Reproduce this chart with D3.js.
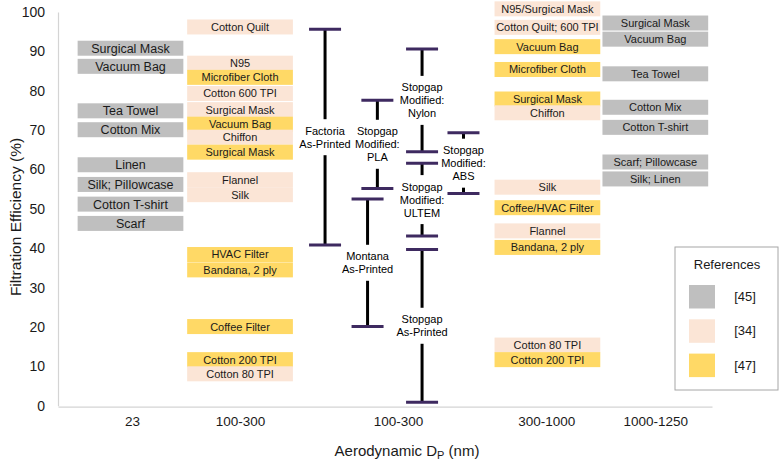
<!DOCTYPE html>
<html>
<head>
<meta charset="utf-8">
<script src="https://cdn.jsdelivr.net/npm/d3@7"></script>
<style>
  html, body { margin: 0; padding: 0; background: #fff; }
  svg { display: block; font-family: "Liberation Sans", Arial, sans-serif; }
</style>
</head>
<body>
<svg id="chart" width="780" height="461"></svg>
<script>
// x-axis categories (aerodynamic diameter bins) and where they sit on the x scale
const categories   = ["23", "100-300", "100-300", "300-1000", "1000-1250"];
const categoryPos  = [0.68, 1.67, 3.12, 4.48, 5.48];
const yTicks = [0, 10, 20, 30, 40, 50, 60, 70, 80, 90, 100];

// literature references
const refs      = ["[45]", "[34]", "[47]"];
const refColors = ["#bfbfbf", "#fbe5d6", "#ffd966"];

// fabric / material filtration efficiency (%) per column : [label, value, ref]
const materials23 = [
  ["Surgical Mask", 90.8, "[45]"], ["Vacuum Bag", 86.2, "[45]"], ["Tea Towel", 74.9, "[45]"],
  ["Cotton Mix", 70.1, "[45]"], ["Linen", 61.2, "[45]"], ["Silk; Pillowcase", 56.2, "[45]"],
  ["Cotton T-shirt", 51.2, "[45]"], ["Scarf", 46.3, "[45]"]
];
const materials100 = [
  ["Cotton Quilt", 96.2, "[34]"], ["N95", 87.0, "[34]"], ["Microfiber Cloth", 83.4, "[47]"],
  ["Cotton 600 TPI", 79.3, "[34]"], ["Surgical Mask", 75.2, "[34]"], ["Vacuum Bag", 71.5, "[47]"],
  ["Chiffon", 68.2, "[34]"], ["Surgical Mask", 64.4, "[47]"], ["Flannel", 57.4, "[34]"],
  ["Silk", 53.6, "[34]"], ["HVAC Filter", 38.4, "[47]"], ["Bandana, 2 ply", 34.5, "[47]"],
  ["Coffee Filter", 20.1, "[47]"], ["Cotton 200 TPI", 11.7, "[47]"], ["Cotton 80 TPI", 8.1, "[34]"]
];
const materials300 = [
  ["N95/Surgical Mask", 100.8, "[34]"], ["Cotton Quilt; 600 TPI", 96.1, "[34]"], ["Vacuum Bag", 91.2, "[47]"],
  ["Microfiber Cloth", 85.4, "[47]"], ["Surgical Mask", 77.9, "[47]"], ["Chiffon", 74.4, "[34]"],
  ["Silk", 55.5, "[34]"], ["Coffee/HVAC Filter", 50.3, "[47]"], ["Flannel", 44.4, "[34]"],
  ["Bandana, 2 ply", 40.2, "[47]"], ["Cotton 80 TPI", 15.4, "[34]"], ["Cotton 200 TPI", 11.7, "[47]"]
];
const materials1000 = [
  ["Surgical Mask", 97.2, "[45]"], ["Vacuum Bag", 93.1, "[45]"], ["Tea Towel", 84.3, "[45]"],
  ["Cotton Mix", 75.8, "[45]"], ["Cotton T-shirt", 70.7, "[45]"], ["Scarf; Pillowcase", 61.9, "[45]"],
  ["Silk; Linen", 57.6, "[45]"]
];

// 3D printed filters: range of efficiency
const printerLabels = [
  ["Factoria", "As-Printed"], ["Stopgap", "Modified:", "PLA"], ["Montana", "As-Printed"],
  ["Stopgap", "Modified:", "Nylon"], ["Stopgap", "Modified:", "ULTEM"], ["Stopgap", "As-Printed"],
  ["Stopgap", "Modified:", "ABS"]
];
const printerPos  = [2.45, 2.93, 2.84, 3.34, 3.34, 3.34, 3.72];
const printerLow  = [40.8, 55.2, 20.1, 64.5, 43.1, 0.9, 53.9];
const printerHigh = [95.6, 77.6, 52.5, 90.6, 61.6, 39.7, 69.3];

const svg = d3.select("#chart");
const x = d3.scaleLinear().domain([0, 6]).range([58, 712]);
const y = d3.scaleLinear().domain([0, 100]).range([405.7, 12]);
const color = d3.scaleOrdinal().domain(refs).range(refColors);

// axes
const yAxis = svg.append("g").attr("transform", `translate(${x(0)},0)`)
  .call(d3.axisLeft(y).tickValues(yTicks).tickSize(0).tickPadding(13));
const xAxis = svg.append("g").attr("transform", `translate(0,${y(0) + 1})`)
  .call(d3.axisBottom(x).tickValues(categoryPos).tickSize(0).tickPadding(10)
    .tickFormat((d, i) => categories[i]));
[yAxis, xAxis].forEach(a => {
  a.select(".domain").attr("stroke", "#d4d4d4").attr("stroke-width", 1.2);
  a.selectAll("text").attr("fill", "#1a1a1a").attr("font-family", "'Liberation Sans', Arial, sans-serif");
});
yAxis.selectAll("text").attr("font-size", "14px");
xAxis.selectAll("text").attr("font-size", "13.5px");

svg.append("text")
  .attr("transform", `translate(16,217) rotate(-90)`)
  .attr("text-anchor", "middle").attr("dy", "0.35em")
  .attr("font-size", "15.5px").attr("fill", "#1a1a1a")
  .text("Filtration Efficiency (%)");

const xt = svg.append("text")
  .attr("x", 407).attr("y", 456)
  .attr("text-anchor", "middle")
  .attr("font-size", "15px").attr("fill", "#1a1a1a");
xt.append("tspan").text("Aerodynamic D");
xt.append("tspan").attr("font-size", "11px").attr("dy", 3).text("P");
xt.append("tspan").attr("dy", -3).text(" (nm)");

// material label boxes
const boxW = 0.97, boxH = 15;
function drawColumn(data, center, fontSize) {
  const g = svg.append("g");
  const item = g.selectAll("g").data(data).join("g")
    .attr("transform", d => `translate(${x(center)},${y(d[1])})`);
  item.append("rect")
    .attr("x", -(x(boxW) - x(0)) / 2).attr("y", -boxH / 2)
    .attr("width", x(boxW) - x(0)).attr("height", boxH)
    .attr("fill", d => color(d[2]));
  item.append("text")
    .attr("text-anchor", "middle").attr("dy", "0.36em")
    .attr("font-size", fontSize).attr("fill", "#1a1a1a")
    .text(d => d[0]);
}
drawColumn(materials23, 0.665, "12.5px");
drawColumn(materials100, 1.67, "11px");
drawColumn(materials300, 4.49, "11px");
drawColumn(materials1000, 5.48, "11px");

// 3D printed error bars
const capW = 32, lineH = 13;
printerLabels.forEach((lines, i) => {
  const cx = x(printerPos[i]);
  const g = svg.append("g");
  g.append("line")
    .attr("x1", cx).attr("x2", cx)
    .attr("y1", y(printerLow[i])).attr("y2", y(printerHigh[i]))
    .attr("stroke", "#000").attr("stroke-width", 3);
  [printerLow[i], printerHigh[i]].forEach(v => {
    g.append("line")
      .attr("x1", cx - capW / 2).attr("x2", cx + capW / 2)
      .attr("y1", y(v)).attr("y2", y(v))
      .attr("stroke", "#3e2a60").attr("stroke-width", 3);
  });
  const my = y((printerLow[i] + printerHigh[i]) / 2);
  const bgH = lines.length * lineH + 10;
  g.append("rect")
    .attr("x", cx - 10).attr("y", my - bgH / 2)
    .attr("width", 20).attr("height", bgH)
    .attr("fill", "#fff");
  const t = g.append("text")
    .attr("text-anchor", "middle")
    .attr("font-size", "11px").attr("fill", "#000");
  lines.forEach((l, k) => {
    t.append("tspan").attr("x", cx)
      .attr("y", my + (k - (lines.length - 1) / 2) * lineH)
      .attr("dy", "0.36em").text(l);
  });
});

// legend
const lg = svg.append("g").attr("transform", "translate(675,247)");
lg.append("rect").attr("width", 103).attr("height", 143)
  .attr("fill", "#fff").attr("stroke", "#a6a6a6").attr("stroke-width", 1);
lg.append("text").attr("x", 52).attr("y", 17).attr("dy", "0.35em")
  .attr("text-anchor", "middle").attr("font-size", "13px").attr("fill", "#1a1a1a")
  .text("References");
const li = lg.selectAll(".li").data(refs).join("g").attr("class", "li")
  .attr("transform", (d, i) => `translate(0,${38 + i * 34.3})`);
li.append("rect").attr("x", 14).attr("width", 26).attr("height", 23.5)
  .attr("fill", d => color(d));
li.append("text").attr("x", 70).attr("y", 11.5).attr("dy", "0.35em")
  .attr("text-anchor", "middle").attr("font-size", "13px").attr("fill", "#1a1a1a")
  .text(d => d);
</script>
</body>
</html>
